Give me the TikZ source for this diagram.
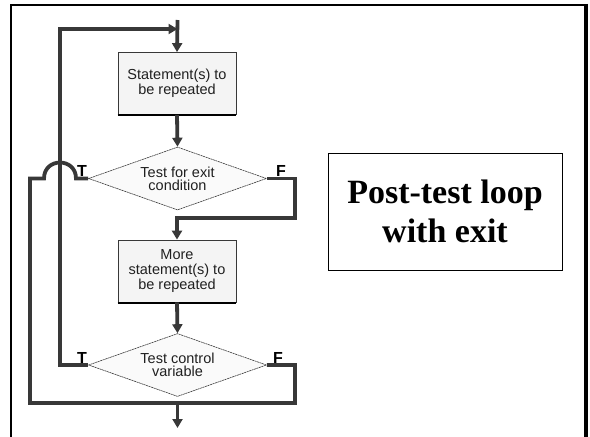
\documentclass[tikz,border=0pt]{standalone}
\usepackage{fontspec}
\setmainfont{Liberation Serif}
\setsansfont{Liberation Sans}
\usetikzlibrary{shapes.geometric,arrows.meta}
\definecolor{flow}{HTML}{383838}
\definecolor{boxfill}{HTML}{F4F4F4}
\definecolor{txt}{HTML}{202020}
\tikzset{
  flowline/.style={draw=flow,line width=3.8pt},
  arr/.style={flowline,-{Triangle[length=9pt,width=10pt]}},
  procbox/.style={rectangle,draw=flow,line width=0.8pt,fill=boxfill,minimum width=118pt,minimum height=62pt,inner sep=0pt,align=center,font=\sffamily\fontsize{14.5}{15}\selectfont,text=txt},
  decbox/.style={diamond,draw=flow,line width=0.6pt,dash pattern=on 2pt off 0.6pt,fill=boxfill!50!white,shape aspect=2.8,inner sep=0pt,minimum width=178pt,minimum height=63pt,align=center,font=\sffamily\fontsize{14.5}{13}\selectfont,text=txt},
  tflab/.style={font=\sffamily\bfseries\fontsize{16}{16}\selectfont,text=black,inner sep=0pt},
  titlebox/.style={rectangle,draw=black,line width=0.8pt,minimum width=234pt,minimum height=117pt,align=center,font=\rmfamily\bfseries\fontsize{34}{39}\selectfont}
}
\begin{document}
\begin{tikzpicture}[x=1pt,y=-1pt]
\useasboundingbox (0,0) rectangle (590,437);
% outer frame
\draw[black,line width=2.5pt] (11,440) -- (11,5) -- (586,5);
\draw[black,line width=4pt] (586,3.75) -- (586,440);

% nodes
\node[procbox] (b1) at (177,83.5) {Statement(s) to\\be repeated};
\node[decbox] (d1) at (177.5,178.5) {Test for exit\\condition};
\node[procbox] (b2) at (177,271) {More\\statement(s) to\\be repeated};
\node[decbox] (d2) at (177.5,365) {Test control\\variable};
\draw[black,line width=2pt] ([yshift=-0.5pt]b1.south west) -- ([yshift=-0.5pt]b1.south east);
\draw[black,line width=2pt] ([yshift=-0.5pt]b2.south west) -- ([yshift=-0.5pt]b2.south east);

\node[tflab] (t1) at (82,171) {T};
\node[tflab] (f1) at (281,171) {F};
\node[tflab] (t2) at (82,357.5) {T};
\node[tflab] (f2) at (278,357.5) {F};

\node[titlebox] (title) at (445,211.5) {Post-test loop\\with exit};

% coordinates
\coordinate (start) at (177.5,20);
\coordinate (loopin) at (177.5,29);
\coordinate (lx) at (60,365);
\coordinate (r1) at (295,218);
\coordinate (hopR) at (76,178.5);
\coordinate (hopL) at (44,178.5);
\coordinate (bl) at (30,403);
\coordinate (br) at (295,403);
\coordinate (exitt) at (177.5,403);
\coordinate (exite) at (177.5,428);

% connectors
\draw[arr] (start) -- (b1.north);
\draw[arr] (b1.south) -- (d1.north);
\draw[arr] (d2.west) -| (60,29) -- (loopin);
\draw[arr] (d1.east) -| (r1) -| (b2.north);
\draw[arr] (b2.south) -- (d2.north);
\draw[flowline,line join=miter] (d1.west) -- (hopR) .. controls (76,157.2) and (44,157.2) .. (hopL) -| (bl) -- (br) |- (d2.east);
\draw[arr] (exitt) -- (exite);
\end{tikzpicture}
\end{document}
